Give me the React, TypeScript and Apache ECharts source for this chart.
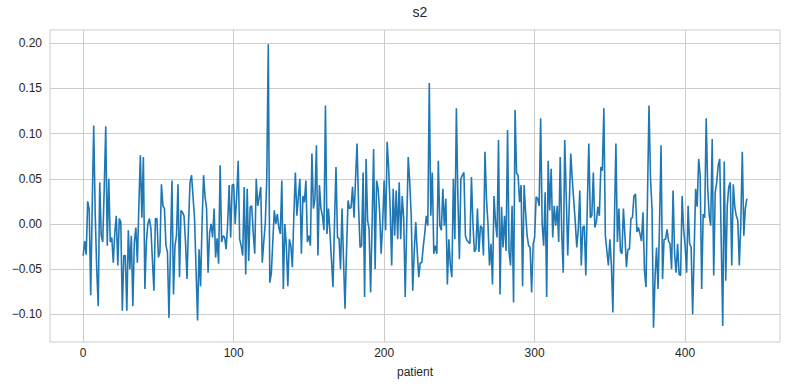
import React, { useEffect, useRef } from "react";
import * as echarts from "echarts";

// s2 values per patient (index = patient number)
const s2Part1 = [
  -0.035, -0.019, -0.034, 0.025, 0.016, -0.079, 0.02, 0.109, 0.01, -0.05,
  -0.091, 0.046, -0.013, -0.02, 0.04, 0.108, -0.024, 0.05, -0.02, -0.015,
  -0.043, -0.01, 0.009, -0.046, 0.006, 0.002, -0.096, -0.035, -0.035, -0.096,
  -0.007, -0.05, -0.013, -0.091, -0.02, -0.004,
  -0.043, 0.02, 0.076, 0.007, 0.074, -0.072, -0.02, 0.0, 0.006, -0.005,
  -0.04, -0.074, 0.006, 0.006, -0.037, -0.031, 0.044, 0.02, 0.017, -0.024,
  -0.031, -0.104, -0.03, 0.048, -0.078, -0.024, -0.013, 0.044, -0.059, 0.015,
  0.013, 0.009, -0.02, -0.061, 0.0, 0.046, 0.054,
  0.03, 0.006, -0.05, -0.107, -0.028, -0.069, 0.0, 0.054, 0.03, 0.017,
  -0.054, -0.01, 0.0, -0.015, 0.017, -0.037, -0.016, -0.044, 0.065, -0.02,
  -0.013, -0.015, -0.028, 0.0, 0.043, -0.015, 0.043, 0.044, 0.0, 0.03,
  0.07, -0.017, -0.024, -0.035, 0.041, -0.056, 0.039, -0.041,
];
const s2Part2 = [
  0.019, 0.02, -0.01, -0.033, 0.05, 0.02, 0.03, 0.041, -0.043, -0.02,
  0.0, 0.05, 0.199, -0.065, -0.055, -0.02, 0.015, 0.0, 0.011, -0.004,
  -0.011, 0.048, -0.072, 0.0, -0.024, -0.069, -0.017, -0.024, -0.048, 0.01,
  0.057, 0.009, 0.03, 0.05, -0.033, 0.031, 0.024, 0.048,
  -0.02, -0.013, -0.024, 0.078, 0.017, 0.028, 0.087, -0.035, 0.043, 0.017,
  0.009, -0.007, 0.131, -0.011, 0.017, -0.01, -0.04, -0.07, 0.0, 0.063,
  -0.015, -0.016, -0.05, 0.017, -0.04, -0.094, -0.03, 0.026, 0.017, 0.018,
  0.041, 0.007, 0.05, 0.089, 0.02, -0.026, -0.024, 0.057,
  -0.081, 0.072, 0.004, -0.006, -0.076, 0.0, 0.083, -0.05, 0.048, 0.039,
  0.013, -0.033, 0.0, 0.048, -0.007, 0.091, 0.061, 0.017, -0.046, 0.039,
  -0.013, 0.037, -0.017, 0.046, -0.017, 0.031, 0.006, -0.081, 0.0, 0.074,
  0.046, 0.009, -0.074, -0.03, 0.002, -0.031, -0.059, -0.043,
];
const s2Part3 = [
  -0.043, -0.025, -0.01, 0.009, -0.002, 0.156, 0.009, 0.057, -0.033, -0.024,
  -0.033, 0.07, -0.002, -0.007, 0.039, -0.002, 0.028, -0.067, -0.017, -0.046,
  -0.059, 0.05, -0.017, 0.128, 0.03, -0.039, 0.05, 0.054, 0.057, -0.013,
  -0.018, -0.02, -0.022, 0.052, 0.0, -0.031, -0.028, 0.017,
  -0.031, -0.002, -0.004, -0.035, 0.08, 0.028, 0.0, -0.046, -0.022, -0.067,
  0.031, 0.002, -0.015, 0.093, -0.078, 0.019, -0.026, 0.009, -0.03, 0.104,
  -0.031, -0.046, 0.02, -0.087, 0.126, 0.056, 0.054, 0.024, 0.043, -0.069,
  0.043, 0.013, -0.013, -0.024, -0.026, -0.076, -0.022,
  -0.015, 0.03, 0.028, 0.02, 0.117, 0.0, -0.024, 0.035, -0.081, 0.07,
  0.015, 0.061, -0.015, 0.02, -0.002, 0.02, -0.02, 0.074, -0.01, -0.054,
  0.093, 0.031, -0.035, 0.02, 0.078, 0.05, 0.026, 0.002, -0.026, -0.006,
  0.037, -0.046, -0.004, -0.002, -0.057, 0.02, 0.089, 0.007,
];
const s2Part4 = [
  0.009, 0.057, -0.004, 0.002, 0.019, 0.009, 0.063, 0.059, 0.128, -0.013,
  -0.03, -0.046, -0.017, -0.045, -0.098, 0.0, 0.089, -0.02, 0.017, -0.03,
  -0.033, 0.017, -0.013, -0.048, -0.028, -0.028, 0.006, 0.007, 0.031, 0.033,
  -0.009, -0.004, -0.011, -0.019, 0.013, -0.052, -0.07, 0.03, 0.131,
  0.05, 0.017, -0.115, -0.06, -0.026, -0.072, 0.0, 0.087, -0.061, -0.017,
  -0.017, -0.006, -0.019, -0.022, -0.05, 0.037, -0.033, -0.054, -0.022, -0.056,
  -0.057, 0.031, -0.006, -0.024, -0.054, 0.02, -0.022, -0.026, -0.1, -0.03,
  0.039, 0.019, 0.072, 0.054, -0.072, 0.011, 0.007, 0.117,
  0.04, 0.01, -0.002, 0.094, -0.057, 0.035, 0.046, 0.065, 0.072, -0.02,
  -0.113, 0.069, -0.063, 0.02, 0.041, 0.046, -0.046, 0.044, 0.019, 0.009,
  0.004, -0.046, 0.0, 0.08, -0.013, 0.017, 0.028,
];

const s2 = [...s2Part1, ...s2Part2, ...s2Part3, ...s2Part4];

const xTicks = [0, 100, 200, 300, 400];
const yTicks = [-0.1, -0.05, 0, 0.05, 0.1, 0.15, 0.2];

const TEXT = "#262626";
const GRIDC = "#cccccc";
const FONT = "'Liberation Sans', Arial, sans-serif";

export default function App() {
  const ref = useRef<HTMLDivElement>(null);

  useEffect(() => {
    if (!ref.current) return;
    const chart = echarts.init(ref.current, undefined, { renderer: "svg" });

    const n = s2.length;
    const xPad = 0.05 * (n - 1);
    const yMinD = Math.min(...s2);
    const yMaxD = Math.max(...s2);
    const yPad = 0.05 * (yMaxD - yMinD);

    const fmt = (v: number) => v.toFixed(2).replace("-", "\u2212");

    chart.setOption({
      animation: false,
      backgroundColor: "#ffffff",
      title: {
        text: "s2",
        left: 415,
        top: 0,
        textAlign: "center",
        textStyle: { fontFamily: FONT, fontSize: 14, fontWeight: "normal", color: TEXT },
      },
      grid: {
        left: 50,
        right: 10,
        top: 30,
        bottom: 48,
        show: true,
        borderColor: GRIDC,
        borderWidth: 1,
        backgroundColor: "transparent",
      },
      xAxis: {
        type: "value",
        min: -xPad,
        max: n - 1 + xPad,
        name: "patient",
        nameLocation: "middle",
        nameGap: 24,
        nameTextStyle: { fontFamily: FONT, fontSize: 12, color: TEXT },
        axisLine: { show: false },
        axisTick: { show: false, customValues: xTicks },
        axisLabel: {
          customValues: xTicks,
          color: TEXT,
          fontFamily: FONT,
          fontSize: 12,
          margin: 5,
          formatter: (v: number) => String(v),
        },
        splitLine: { show: true, lineStyle: { color: GRIDC, width: 1 } },
      },
      yAxis: {
        type: "value",
        min: yMinD - yPad,
        max: yMaxD + yPad,
        axisLine: { show: false },
        axisTick: { show: false, customValues: yTicks },
        axisLabel: {
          customValues: yTicks,
          color: TEXT,
          fontFamily: FONT,
          fontSize: 12,
          margin: 8,
          formatter: (v: number) => fmt(v),
        },
        splitLine: { show: true, lineStyle: { color: GRIDC, width: 1 } },
      },
      series: [
        {
          type: "line",
          data: s2.map((v, i) => [i, v]),
          showSymbol: false,
          symbol: "none",
          lineStyle: { color: "#1f77b4", width: 1.6 },
          itemStyle: { color: "#1f77b4" },
        },
      ],
    });

    return () => chart.dispose();
  }, []);

  return (
    <div
      ref={ref}
      style={{ position: "fixed", left: 0, top: 0, width: 790, height: 390, background: "#fff" }}
    />
  );
}
